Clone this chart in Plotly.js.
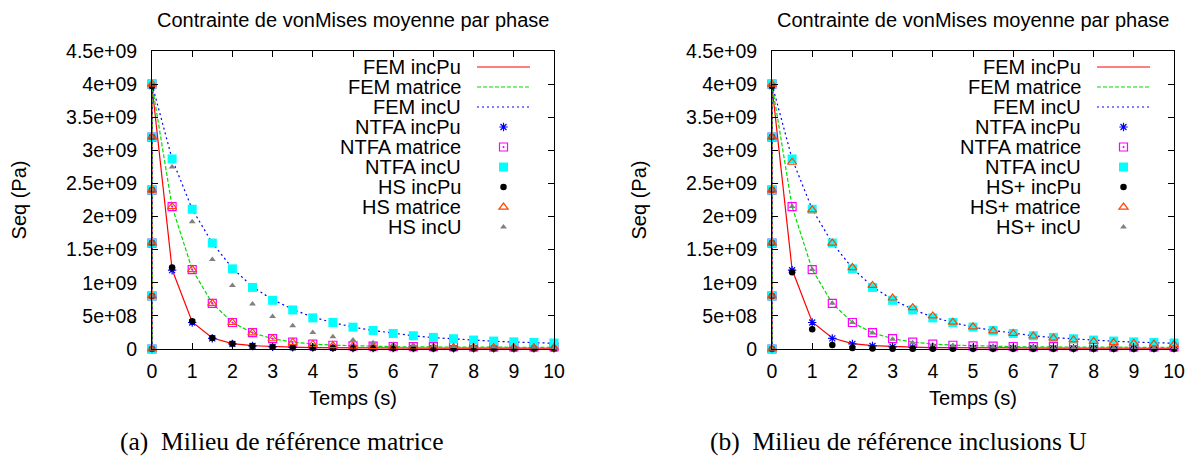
<!DOCTYPE html>
<html><head><meta charset="utf-8">
<script src="https://cdn.plot.ly/plotly-3.0.1.min.js"></script>
<style>html,body{margin:0;padding:0;background:#fff}#chart{width:1196px;height:457px}</style>
</head><body><div id="chart"></div>
<script>
// ---------------- data ----------------
const time = [0,0,0,0,0,0,0.5,1,1.5,2,2.5,3,3.5,4,4.5,5,5.5,6,6.5,7,7.5,8,8.5,9,9.5,10];

const femIncPu   = [0,0.8e9,1.6e9,2.4e9,3.2e9,3.97e9, 1.20e9,0.41e9,0.165e9,0.08e9,0.05e9,0.035e9,0.027e9,0.022e9,0.019e9,0.017e9,0.016e9,0.015e9,0.014e9,0.014e9,0.013e9,0.013e9,0.012e9,0.012e9,0.012e9,0.011e9];
const femMatrice = [0,0.8e9,1.6e9,2.4e9,3.2e9,4.0e9, 2.15e9,1.20e9,0.69e9,0.40e9,0.245e9,0.155e9,0.105e9,0.075e9,0.058e9,0.047e9,0.040e9,0.035e9,0.032e9,0.030e9,0.028e9,0.027e9,0.026e9,0.025e9,0.025e9,0.024e9];
const femIncU    = [0,0.8e9,1.6e9,2.4e9,3.2e9,4.0e9, 2.87e9,2.11e9,1.60e9,1.22e9,0.94e9,0.745e9,0.60e9,0.48e9,0.40e9,0.33e9,0.28e9,0.235e9,0.20e9,0.172e9,0.15e9,0.131e9,0.117e9,0.105e9,0.095e9,0.087e9];

const ntfaIncPu   = [0,0.8e9,1.6e9,2.4e9,3.2e9,3.97e9, 1.19e9,0.40e9,0.16e9,0.076e9,0.046e9,0.033e9,0.026e9,0.021e9,0.018e9,0.016e9,0.015e9,0.014e9,0.013e9,0.013e9,0.012e9,0.012e9,0.011e9,0.011e9,0.011e9,0.010e9];
const ntfaMatrice = [0,0.8e9,1.6e9,2.4e9,3.2e9,4.0e9, 2.15e9,1.20e9,0.69e9,0.40e9,0.246e9,0.158e9,0.105e9,0.075e9,0.057e9,0.048e9,0.042e9,0.038e9,0.036e9,0.035e9,0.034e9,0.033e9,0.033e9,0.032e9,0.032e9,0.032e9];
const ntfaIncU    = [0,0.8e9,1.6e9,2.4e9,3.2e9,4.0e9, 2.87e9,2.11e9,1.60e9,1.21e9,0.93e9,0.735e9,0.59e9,0.47e9,0.40e9,0.33e9,0.28e9,0.235e9,0.20e9,0.175e9,0.155e9,0.135e9,0.12e9,0.108e9,0.098e9,0.09e9];

// (a) Hashin-Shtrikman, reference medium = matrix
const hsIncPuA   = [0,0.8e9,1.6e9,2.4e9,3.2e9,3.97e9, 1.23e9,0.42e9,0.165e9,0.078e9,0.045e9,0.030e9,0.022e9,0.017e9,0.014e9,0.012e9,0.011e9,0.010e9,0.010e9,0.009e9,0.009e9,0.009e9,0.008e9,0.008e9,0.008e9,0.008e9];
const hsMatriceA = [0,0.8e9,1.6e9,2.4e9,3.2e9,4.0e9, 2.15e9,1.20e9,0.69e9,0.40e9,0.245e9,0.155e9,0.10e9,0.07e9,0.052e9,0.042e9,0.035e9,0.030e9,0.027e9,0.025e9,0.023e9,0.022e9,0.021e9,0.020e9,0.020e9,0.019e9];
const hsIncUA    = [0,0.8e9,1.6e9,2.4e9,3.2e9,4.0e9, 2.75e9,1.92e9,1.35e9,0.96e9,0.68e9,0.49e9,0.35e9,0.25e9,0.185e9,0.135e9,0.095e9,0.07e9,0.055e9,0.045e9,0.038e9,0.033e9,0.030e9,0.027e9,0.025e9,0.024e9];

// (b) HS+, reference medium = inclusions U
const hsIncPuB   = [0,0.8e9,1.6e9,2.4e9,3.2e9,3.97e9, 1.16e9,0.30e9,0.06e9,0.015e9,0.006e9,0.004e9,0.003e9,0.003e9,0.002e9,0.002e9,0.002e9,0.002e9,0.002e9,0.002e9,0.002e9,0.002e9,0.002e9,0.002e9,0.002e9,0.002e9];
const hsMatriceB = [0,0.8e9,1.6e9,2.4e9,3.2e9,4.0e9, 2.82e9,2.10e9,1.60e9,1.23e9,0.96e9,0.77e9,0.625e9,0.50e9,0.405e9,0.335e9,0.275e9,0.235e9,0.196e9,0.165e9,0.138e9,0.115e9,0.098e9,0.085e9,0.075e9,0.067e9];
const hsIncUB    = [0,0.8e9,1.6e9,2.4e9,3.2e9,4.0e9, 2.15e9,1.20e9,0.69e9,0.40e9,0.24e9,0.146e9,0.095e9,0.065e9,0.048e9,0.038e9,0.032e9,0.028e9,0.025e9,0.023e9,0.022e9,0.021e9,0.020e9,0.020e9,0.019e9,0.019e9];

const labelsA = ['FEM incPu','FEM matrice','FEM incU','NTFA incPu','NTFA matrice','NTFA incU','HS incPu','HS matrice','HS incU'];
const labelsB = ['FEM incPu','FEM matrice','FEM incU','NTFA incPu','NTFA matrice','NTFA incU','HS+ incPu','HS+ matrice','HS+ incU'];
const seriesA = [femIncPu,femMatrice,femIncU,ntfaIncPu,ntfaMatrice,ntfaIncU,hsIncPuA,hsMatriceA,hsIncUA];
const seriesB = [femIncPu,femMatrice,femIncU,ntfaIncPu,ntfaMatrice,ntfaIncU,hsIncPuB,hsMatriceB,hsIncUB];

const plotTitle = 'Contrainte de vonMises moyenne par phase';
const xTitle = 'Temps (s)';
const yTitle = 'Seq (Pa)';
const captions = ['(a)\u00a0 Milieu de référence matrice', '(b)\u00a0 Milieu de référence inclusions U'];
const yTickVals = [0,0.5e9,1e9,1.5e9,2e9,2.5e9,3e9,3.5e9,4e9,4.5e9];
const yTickText = ['0','5e+08','1e+09','1.5e+09','2e+09','2.5e+09','3e+09','3.5e+09','4e+09','4.5e+09'];
const xTickVals = [0,1,2,3,4,5,6,7,8,9,10];

// ---------------- styles ----------------
const styles = [
  {mode:'lines', line:{color:'#ff0000', width:1.2}},
  {mode:'lines', line:{color:'#00dd00', width:1.2, dash:'4px,2px'}},
  {mode:'lines', line:{color:'#0000ff', width:1.2, dash:'2px,3px'}},
  {mode:'markers', marker:{symbol:'asterisk-open', size:7, color:'#0000ff', line:{color:'#0000ff', width:1.2}}},
  {mode:'markers', marker:{symbol:'square-open-dot', size:8, color:'#ff00ff', line:{color:'#ff00ff', width:1.2}}},
  {mode:'markers', marker:{symbol:'square', size:9, color:'#00ffff', line:{width:0}}},
  {mode:'markers', marker:{symbol:'circle', size:6.5, color:'#000000', line:{width:0}}},
  {mode:'markers', marker:{symbol:'triangle-up-open', size:8, color:'#ff4500', line:{color:'#ff4500', width:1.2}}},
  {mode:'markers', marker:{symbol:'triangle-up', size:6, color:'#808080', line:{width:0}}}
];

const W = 1196, H = 457;
const px = v => v / W;
const py = v => 1 - v / H;
const plotLeft = [152, 772], plotWidth = 402, plotTop = 51, plotBottom = 349;

const traces = [];
[seriesA, seriesB].forEach((series, p) => {
  const xa = p === 0 ? 'x' : 'x2', ya = p === 0 ? 'y' : 'y2';
  const labels = p === 0 ? labelsA : labelsB;
  series.forEach((vals, i) => {
    traces.push(Object.assign({type:'scatter', x:time, y:vals, name:labels[i], xaxis:xa, yaxis:ya,
      showlegend:false, cliponaxis:false, hoverinfo:'x+y+name'}, JSON.parse(JSON.stringify(styles[i]))));
  });
  // legend key entries (no data) — their labels are drawn right-aligned as annotations
  series.forEach((vals, i) => {
    traces.push(Object.assign({type:'scatter', x:[null], y:[null], name:'', xaxis:xa, yaxis:ya,
      showlegend:true, legend: p === 0 ? 'legend' : 'legend2', hoverinfo:'skip'}, JSON.parse(JSON.stringify(styles[i]))));
  });
});

const fam = '"Liberation Sans", Arial, Helvetica, sans-serif';
const tickFont = {family:fam, size:19.5, color:'#000'};
const textFont = {family:fam, size:20, color:'#000'};

function xAxis(p){
  return {domain:[px(plotLeft[p]), px(plotLeft[p]+plotWidth)], anchor: p===0?'y':'y2', range:[0,10],
    tickvals:xTickVals, ticks:'inside', ticklen:6, tickwidth:1, tickcolor:'#000',
    showline:true, linecolor:'#000', linewidth:1, mirror:'ticks', showgrid:false, zeroline:false,
    tickfont:tickFont, ticklabelstandoff:5, fixedrange:true,
    title:{text:xTitle, font:textFont, standoff:9}};
}
function yAxis(p){
  return {domain:[py(plotBottom), py(plotTop)], anchor: p===0?'x':'x2', range:[0,4.5e9],
    tickvals:yTickVals, ticktext:yTickText, ticks:'inside', ticklen:6, tickwidth:1, tickcolor:'#000',
    showline:true, linecolor:'#000', linewidth:1, mirror:'ticks', showgrid:false, zeroline:false,
    tickfont:tickFont, ticklabelstandoff:10, fixedrange:true,
    title:{text:yTitle, font:textFont, standoff:34}};
}
function legendBox(p){
  return {x: px(plotLeft[p] + 320), xanchor:'left', y: py(52), yanchor:'top',
    bgcolor:'rgba(0,0,0,0)', borderwidth:0, font:{family:fam, size:13.08, color:'#000'},
    itemwidth:53, tracegroupgap:0, traceorder:'normal', itemclick:false, itemdoubleclick:false};
}

const annotations = [];
[0,1].forEach(p => {
  const cx = plotLeft[p] + plotWidth/2;
  annotations.push({xref:'paper', yref:'paper', x:px(cx), y:py(20), text:plotTitle, showarrow:false,
    xanchor:'center', yanchor:'middle', font:textFont});
  const labels = p === 0 ? labelsA : labelsB;
  labels.forEach((t, i) => {
    annotations.push({xref:'paper', yref:'paper', x:px(plotLeft[p] + 311), y:py(67 + 20*i), text:t, showarrow:false,
      xanchor:'right', yanchor:'middle', font:textFont});
  });
  annotations.push({xref:'paper', yref:'paper', x:px(p===0 ? 282 : 898), y:0, text:captions[p], showarrow:false,
    xanchor:'center', yanchor:'bottom', borderpad:0,
    font:{family:'"Liberation Serif", "Times New Roman", serif', size:25.5, color:'#000'}});
});

const layout = {
  width:W, height:H, margin:{l:0, r:0, t:0, b:0, autoexpand:false},
  paper_bgcolor:'#ffffff', plot_bgcolor:'#ffffff', font:textFont,
  xaxis:xAxis(0), yaxis:yAxis(0), xaxis2:xAxis(1), yaxis2:yAxis(1),
  legend:legendBox(0), legend2:legendBox(1),
  annotations:annotations, hovermode:false
};

Plotly.newPlot('chart', traces, layout, {staticPlot:true, displayModeBar:false});
</script></body></html>
